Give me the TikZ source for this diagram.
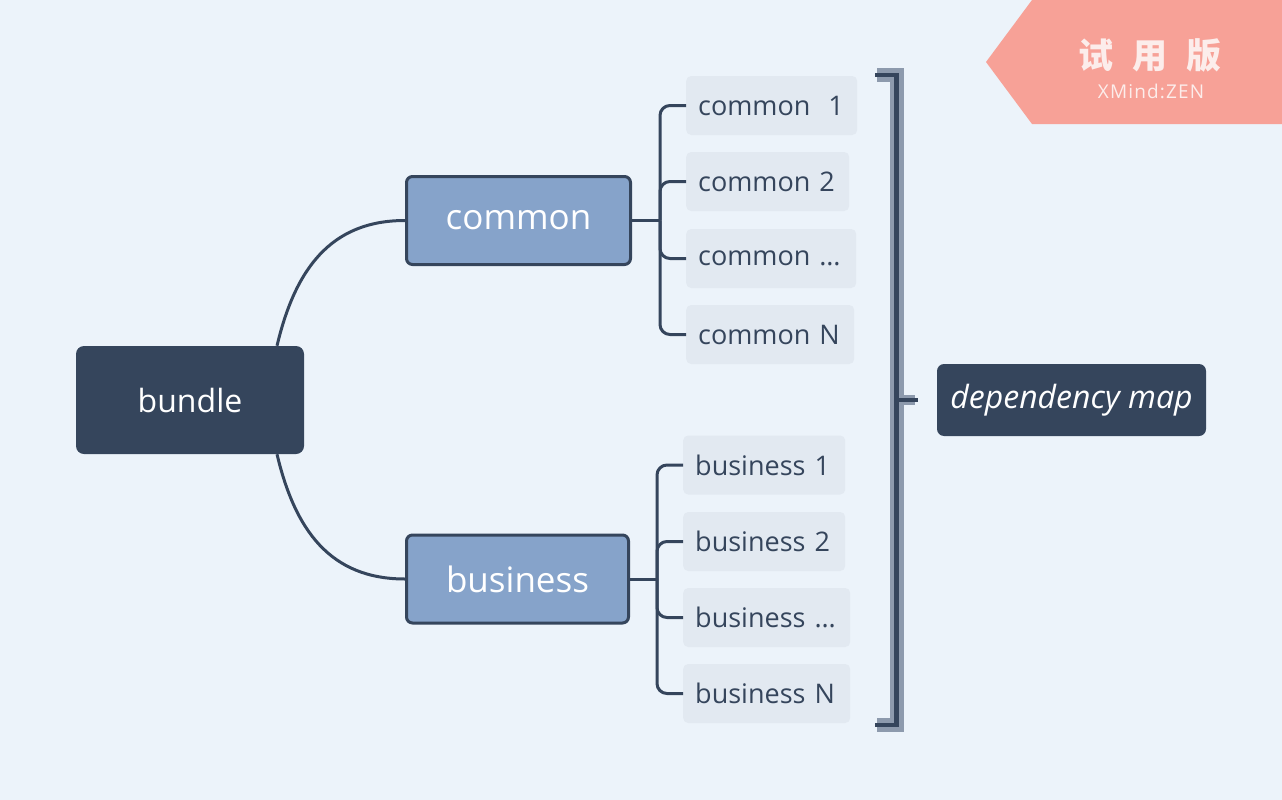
\documentclass[tikz,border=0pt]{standalone}
\usepackage{fontspec}
\setmainfont{Open Sans}
\newfontfamily\cjk{Noto Sans CJK SC}
\newfontfamily\zenfont{Open Sans}[LetterSpace=6]
\usetikzlibrary{calc}
\definecolor{bg}{HTML}{ECF3FA}
\definecolor{dark}{HTML}{35455C}
\definecolor{mainblue}{HTML}{86A3CA}
\definecolor{subfill}{HTML}{E2E9F1}
\definecolor{brgray}{HTML}{8D9AAD}
\definecolor{badge}{HTML}{F7A197}
\definecolor{badgetext}{HTML}{FCEDEB}
\tikzset{
  root/.style={fill=dark, rounded corners=8, text=white, minimum width=228, minimum height=108, font=\fontsize{32}{37}\selectfont},
  maintopic/.style={fill=mainblue, draw=dark, line width=3, rounded corners=6, text=white, minimum height=88, font=\fontsize{35}{40}\selectfont},
  subtopic/.style={fill=subfill, rounded corners=5, text=dark, anchor=west, minimum height=59, inner xsep=12, align=left, font=\fontsize{27}{32}\selectfont},
  summary/.style={fill=dark, rounded corners=7, text=white, minimum width=269, minimum height=72, font=\fontsize{32}{36}\selectfont\itshape},
  conn/.style={draw=dark, line width=3},
  branch/.style={conn, rounded corners=10},
}
\begin{document}
\begin{tikzpicture}[x=1pt,y=-1pt]
\fill[bg] (0,0) rectangle (1282,800);
\useasboundingbox (0,0) rectangle (1282,800);

% badge
\fill[badge] (986,62) -- (1032,0) -- (1282,0) -- (1282,124) -- (1032,124) -- cycle;
\node[text=badgetext, font=\cjk\bfseries\fontsize{35}{40}\selectfont, inner sep=0] (trial) at (1150,55) {试\hspace{19pt}用\hspace{19pt}版};
\node[text=badgetext, font=\zenfont\fontsize{19}{22}\selectfont, inner sep=0] (zen) at (1151,91) {XMind:ZEN};

% nodes
\node[root] (bundle) at (190,400) {bundle};
\node[maintopic, minimum width=224] (common) at (518.5,220.5) {common};
\node[maintopic, minimum width=222] (business) at (517.5,579) {business};

\node[subtopic, text width=147] (c1) at (686,105.5) {common\ \ 1};
\node[subtopic, text width=139] (c2) at (686,181.5) {common 2};
\node[subtopic, text width=146] (c3) at (686,258.5) {common …};
\node[subtopic, text width=144] (c4) at (686,334.5) {common N};

\node[subtopic, text width=138] (b1) at (683,465) {business 1};
\node[subtopic, text width=138] (b2) at (683,541.5) {business 2};
\node[subtopic, text width=143] (b3) at (683,617.5) {business …};
\node[subtopic, text width=143] (b4) at (683,693.5) {business N};

\node[summary] (dep) at (1071.5,400) {dependency map};

% curves from root
\draw[conn] ($(bundle.north)+(87,0)$) .. controls (295,270) and (330,220.5) .. (common.west);
\draw[conn] ($(bundle.south)+(87,0)$) .. controls (295,530) and (330,579) .. (business.west);

% common branches
\coordinate (tc) at (660,220.5);
\draw[conn] (common.east) -- (tc);
\foreach \n in {c1,c2,c3,c4} \draw[branch] (tc) |- (\n.west);

% business branches
\coordinate (tb) at (657,579);
\draw[conn] (business.east) -- (tb);
\foreach \n in {b1,b2,b3,b4} \draw[branch] (tb) |- (\n.west);

% summary bracket
\coordinate (btop) at (896.5,75);
\coordinate (bbot) at (896.5,725);
\coordinate (bmid) at (896.5,400);
\coordinate (tick) at (918,400);
\draw[brgray, line width=14] (877,75) -- (btop) -- (bbot) -- (877,725);
\draw[brgray, line width=10] (bmid) -- (915,400);
\draw[dark, line width=4.5] (875,75) -- (btop) -- (bbot) -- (875,725);
\draw[dark, line width=4.5] (bmid) -- (tick);
\end{tikzpicture}
\end{document}
